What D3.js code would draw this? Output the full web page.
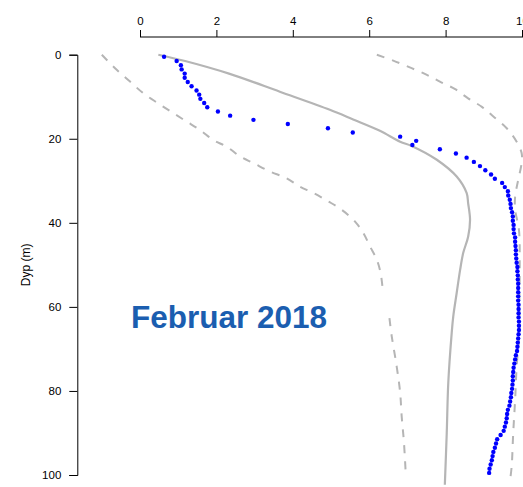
<!DOCTYPE html>
<html>
<head>
<meta charset="utf-8">
<script src="https://cdn.jsdelivr.net/npm/d3@7"></script>
<style>
  html, body { margin: 0; padding: 0; background: #ffffff; }
  svg { display: block; }
  text { font-family: "Liberation Sans", Arial, sans-serif; }
</style>
</head>
<body>
<svg id="chart" width="523" height="487"></svg>
<script>
// Temperature profile (°C) by depth (m), February 2018
const depths = [0.5,1.5,2.5,3.5,4.5,5.5,6.5,7.5,8.5,9.5,10.5,11.5,12.5,13.5,14.5,15.5,16.5,17.5,18.5,19.5,
  20.5,21.5,22.5,23.5,24.5,25.5,26.5,27.5,28.5,29.5,30.5,31.5,32.5,33.5,34.5,35.5,36.5,37.5,38.5,39.5,
  40.5,41.5,42.5,43.5,44.5,45.5,46.5,47.5,48.5,49.5,50.5,51.5,52.5,53.5,54.5,55.5,56.5,57.5,58.5,59.5,
  60.5,61.5,62.5,63.5,64.5,65.5,66.5,67.5,68.5,69.5,70.5,71.5,72.5,73.5,74.5,75.5,76.5,77.5,78.5,79.5,
  80.5,81.5,82.5,83.5,84.5,85.5,86.5,87.5,88.5,89.5,90.5,91.5,92.5,93.5,94.5,95.5,96.5,97.5,98.5,99.5];
const febTemp = [0.63,0.96,1.07,1.09,1.17,1.17,1.25,1.35,1.48,1.55,1.58,1.68,1.76,2.04,2.36,2.97,3.87,4.92,5.57,6.81,
  7.23,7.13,7.85,8.27,8.55,8.74,8.90,9.04,9.19,9.29,9.48,9.55,9.63,9.64,9.68,9.70,9.71,9.74,9.76,9.76,
  9.78,9.78,9.79,9.82,9.82,9.83,9.84,9.84,9.85,9.86,9.88,9.88,9.89,9.89,9.90,9.90,9.90,9.90,9.90,9.91,
  9.91,9.91,9.91,9.92,9.92,9.92,9.91,9.90,9.89,9.88,9.87,9.84,9.82,9.80,9.78,9.77,9.76,9.76,9.75,9.74,
  9.72,9.71,9.69,9.67,9.63,9.61,9.60,9.58,9.55,9.52,9.44,9.35,9.32,9.29,9.25,9.23,9.21,9.18,9.15,9.14];

// Long-term mean profile
const meanDepth = [0,1.5,4.5,8.8,13.1,15.4,18.1,20.7,21.7,25.0,29.0,32.9,35.3,39.3,43.3,47.2,51.2,56.7,62.3,66.2,78.1,90.0,102.3];
const meanTemp  = [0.48,1.18,2.33,3.66,4.97,5.58,6.28,6.81,7.11,7.77,8.29,8.55,8.59,8.64,8.59,8.46,8.38,8.29,8.20,8.16,8.07,8.03,7.98];

// Lower envelope (null marks a gap in the record)
const lowDepth = [0,3.6,6.4,9.2,11.6,13.9,15.9,17.9,20.3,21.9,24.2,25.8,27.8,29.4,31.4,32.9,34.9,36.9,39.7,42.5,45.6,48.8,52.0,55.5,59.0,62.7,67.0,74.2,80.4,86.0,92.3,100.3];
const lowTemp  = [-1.00,-0.61,-0.26,0.09,0.48,0.87,1.22,1.57,1.92,2.27,2.62,2.97,3.40,3.84,4.19,4.54,4.93,5.28,5.63,5.85,6.02,6.20,6.30,6.35,null,6.53,6.59,6.72,6.81,6.85,6.91,6.96];

// Upper envelope
const highDepth = [0,1.4,3.2,4.8,6.4,8.2,10.4,12.4,14.7,17.5,20.7,23.4,25.8,29.8,33.8,36.9,41.7,50.0,59.9,66.2,74.2,82.1,90.0,97.9,101.1];
const highTemp  = [6.20,6.63,7.11,7.51,7.85,8.25,8.59,8.95,9.25,9.60,9.86,9.99,9.99,9.90,9.82,9.82,9.92,9.94,9.93,9.93,9.86,9.82,9.77,9.73,9.69];

const xTicks = [0, 2, 4, 6, 8, 10];
const yTicks = [0, 20, 40, 60, 80, 100];
const title = "Februar 2018";
const yTitle = "Dyp (m)";

const svg = d3.select("#chart");

const x = d3.scaleLinear().domain([0, 10]).range([140, 522]);
const y = d3.scaleLinear().domain([0, 100]).range([54.7, 475]);

const grey = "#b5b5b5";

// top axis
const xAxis = svg.append("g")
  .attr("transform", "translate(0,37)")
  .call(d3.axisTop(x).tickValues(xTicks).tickSize(7).tickPadding(5).tickFormat(d3.format("d")));
xAxis.select(".domain").attr("d", `M${x(0)},0H${x(10) + 4}`);

// left axis
const yAxis = svg.append("g")
  .attr("transform", "translate(77.3,0)")
  .call(d3.axisLeft(y).tickValues(yTicks).tickSize(8).tickPadding(8).tickFormat(d3.format("d")));

[xAxis, yAxis].forEach(a => {
  a.selectAll("text").attr("font-size", 11.5).attr("fill", "#000")
    .style("font-family", "'Liberation Sans', Arial, sans-serif");
  a.selectAll("line, path").attr("stroke", "#000").attr("stroke-width", 1);
});

// y title centred on the depth range
svg.append("text")
  .attr("transform", `translate(30,${y(50)}) rotate(-90)`)
  .attr("text-anchor", "middle")
  .attr("font-size", 12)
  .attr("fill", "#000")
  .text(yTitle);

// envelope and mean lines
const profile = (ds, ts) => ds.map((d, i) => ({ d, t: ts[i] }));
const line = d3.line()
  .defined(p => p.t !== null)
  .x(p => x(p.t))
  .y(p => y(p.d))
  .curve(d3.curveCatmullRom);

svg.append("path")
  .datum(profile(lowDepth, lowTemp))
  .attr("d", line)
  .attr("fill", "none").attr("stroke", grey).attr("stroke-width", 2)
  .attr("stroke-dasharray", "8,8");

svg.append("path")
  .datum(profile(highDepth, highTemp))
  .attr("d", line)
  .attr("fill", "none").attr("stroke", grey).attr("stroke-width", 2)
  .attr("stroke-dasharray", "8,8");

svg.append("path")
  .datum(profile(meanDepth, meanTemp))
  .attr("d", line)
  .attr("fill", "none").attr("stroke", grey).attr("stroke-width", 2.2);

// observed profile
svg.append("g")
  .selectAll("circle")
  .data(profile(depths, febTemp))
  .join("circle")
  .attr("cx", p => x(p.t))
  .attr("cy", p => y(p.d))
  .attr("r", 2.2)
  .attr("fill", "#0000ff");

svg.append("text")
  .attr("x", 131)
  .attr("y", 328)
  .attr("font-size", 31.5)
  .attr("font-weight", "bold")
  .attr("fill", "#1b5eb0")
  .text(title);
</script>
</body>
</html>
